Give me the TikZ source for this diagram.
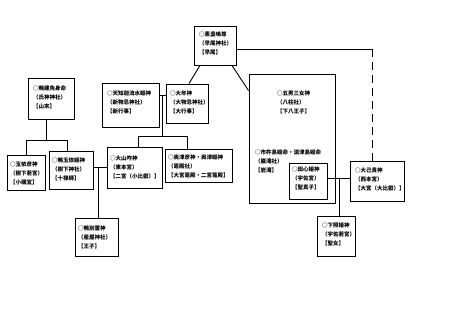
\documentclass[tikz,border=0pt]{standalone}
\usepackage{fontspec}
\newfontfamily\jp{Noto Sans CJK JP}
\usetikzlibrary{calc,fit}
\begin{document}
\begin{tikzpicture}[x=1pt,y=-1pt,
  box/.style={draw=black, line width=0.9pt, inner sep=0pt},
  lbl/.style={anchor=north west, inner sep=0pt, align=left, font=\jp\bfseries\fontsize{5.5}{9.3}\selectfont},
  conn/.style={draw=black, line width=0.9pt}]
\useasboundingbox[fill=white] (0,0) rectangle (450,319);
% boxes
\node[box, fit={(194,26) (236,65)}] (top) {};
\node[box, fit={(28,78) (74,119)}] (kamo) {};
\node[box, fit={(7,155) (45,190)}] (tamayorihiko) {};
\node[box, fit={(49,151) (93,189)}] (kamotamayorihime) {};
\node[box, fit={(102,83) (159,127)}] (amechi) {};
\node[box, fit={(166,84) (208,123)}] (ootoshi) {};
\node[box, fit={(107,147) (162,188)}] (ooyamakui) {};
\node[box, fit={(165,149) (232,182)}] (kamado) {};
\node[box, fit={(75,218) (118,256)}] (wakeikazuchi) {};
\node[box, fit={(249,74) (335,203)}] (big) {};
\node[box, fit={(289,163) (327,199)}] (tagori) {};
\node[box, fit={(350,161) (404,201)}] (oonamuchi) {};
\node[box, fit={(317,216) (355,256)}] (shitateru) {};
% labels
\node[lbl] (ttop) at (199,31.3) {○素盞嗚尊\\（早尾神社）\\【早尾】};
\node[lbl] (tkamo) at (33,85.3) {○鴨建角身命\\（氏神神社）\\【山末】};
\node[lbl] (ttamayorihiko) at (10,161.3) {○玉依彦神\\（樹下若宮）\\【小禰宜】};
\node[lbl] (tkamotamayorihime) at (52,157.3) {○鴨玉依姫神\\（樹下神社）\\【十禅師】};
\node[lbl] (tamechi) at (107,90.3) {○天知迦流水姫神\\（新物忌神社）\\【新行事】};
\node[lbl] (tootoshi) at (170,90.3) {○大年神\\（大物忌神社）\\【大行事】};
\node[lbl] (tooyamakui) at (110,155.3) {○大山咋神\\（東本宮）\\【二宮（小比叡）】};
\node[lbl] (tkamado) at (168,154.3) {○奥津彦神・奥津姫神\\（竈殿社）\\【大宮竈殿・二宮竈殿】};
\node[lbl] (twakeikazuchi) at (78,225.3) {○鴨別雷神\\（産屋神社）\\【王子】};
\node[lbl] (tbig1) at (277,90.3) {○五男三女神\\（八柱社）\\【下八王子】};
\node[lbl] (tbig2) at (255,149.3) {○市杵島姫命・湍津島姫命\\（巌滝社）\\【岩滝】};
\node[lbl] (ttagori) at (292,166.3) {○田心姫神\\（宇佐宮）\\【聖真子】};
\node[lbl] (toonamuchi) at (355,167.3) {○大己貴神\\（西本宮）\\【大宮（大比叡）】};
\node[lbl] (tshitateru) at (322,222.3) {○下照姫神\\（宇佐若宮）\\【聖女】};
% connectors
\coordinate (tr) at (372,49);
\draw[conn] (top.east |- tr) -- (tr);
\draw[conn, dash pattern=on 8pt off 5pt] (tr) -- (tr |- oonamuchi.north);
\draw[conn] ([xshift=-15pt]top.south) -- ([xshift=2pt]ootoshi.north);
\draw[conn] ([xshift=17pt]top.south) -- ([yshift=-17pt]big.north west);
\coordinate (kj) at (46,140);
\coordinate (kr) at (67,140);
\draw[conn] (kj |- kamo.south) -- (kj);
\draw[conn] (tamayorihiko.north) |- (kr) -- (kr |- kamotamayorihime.north);
\coordinate (mj) at (98,167);
\draw[conn] (kamotamayorihime.east |- mj) -- (ooyamakui.west |- mj);
\draw[conn] (mj) -- (mj |- wakeikazuchi.north);
\coordinate (aj) at (162,95);
\coordinate (ab) at (162,136);
\coordinate (al) at (138,136);
\coordinate (ar) at (187,136);
\draw[conn] (amechi.east |- aj) -- (ootoshi.west |- aj);
\draw[conn] (aj) -- (ab);
\draw[conn] (al |- ooyamakui.north) -- (al) -- (ar) -- (ar |- kamado.north);
\coordinate (tj) at (339,178);
\draw[conn] (tagori.east |- tj) -- (oonamuchi.west |- tj);
\draw[conn] (tj) -- (tj |- shitateru.north);
\end{tikzpicture}
\end{document}
